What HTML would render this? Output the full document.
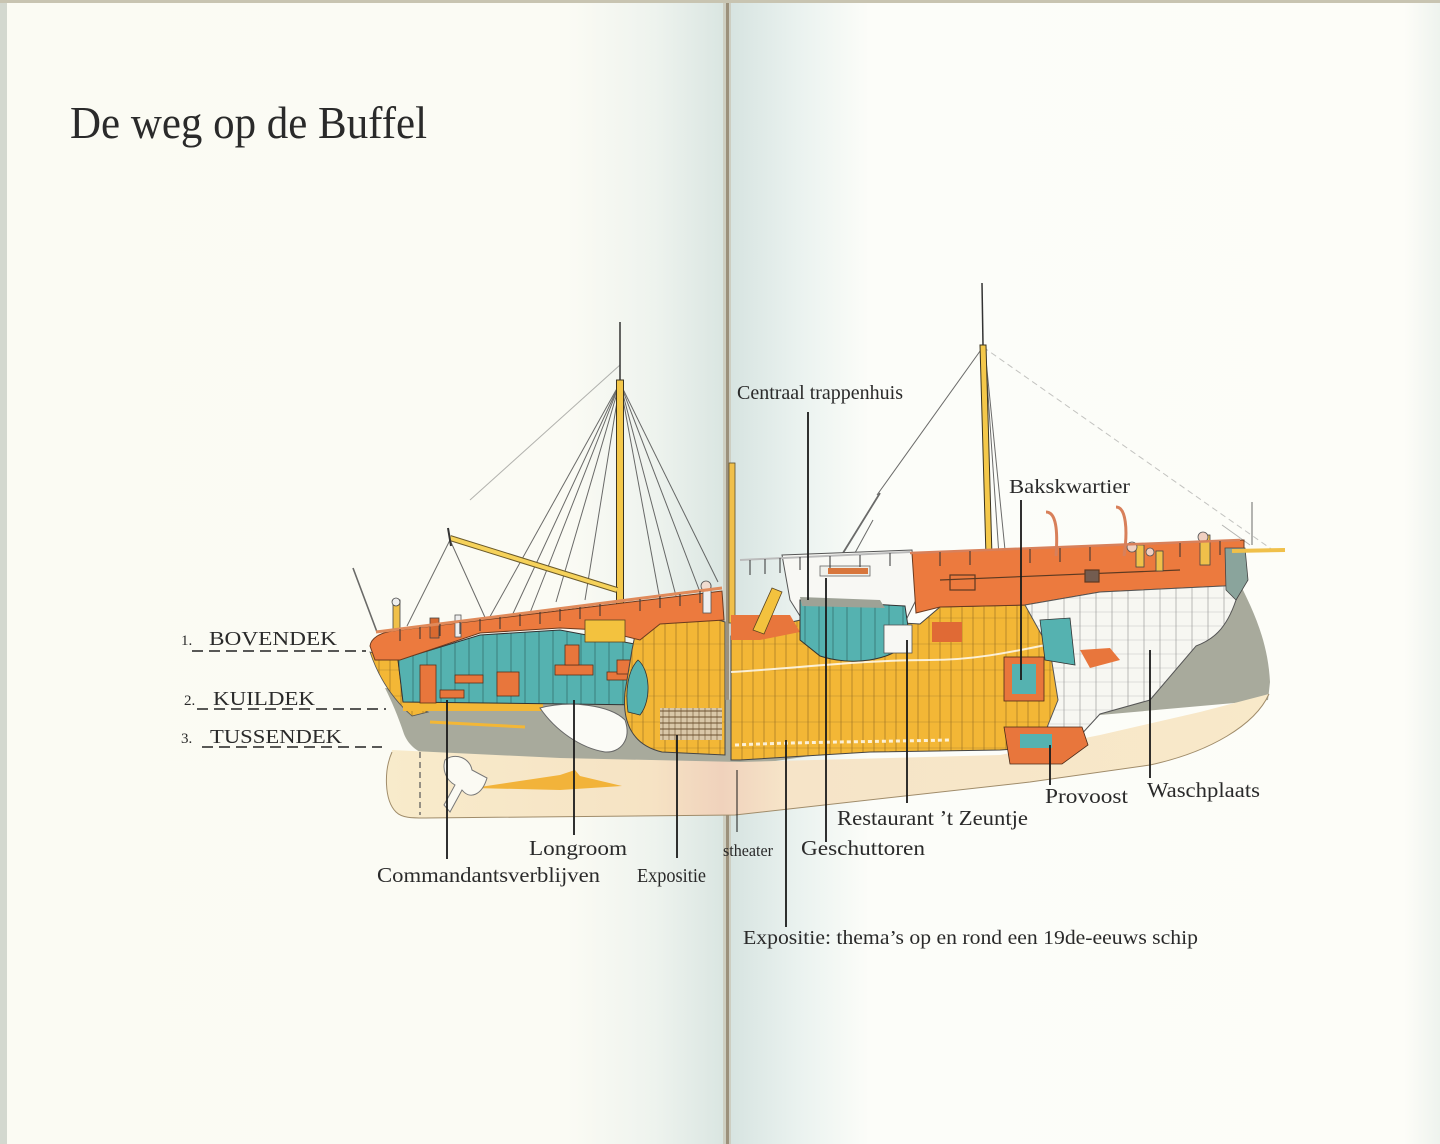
<!DOCTYPE html>
<html><head><meta charset="utf-8"><style>
html,body{margin:0;padding:0;background:#fbfbf4;}
svg{display:block;}
text{font-family:"Liberation Serif",serif;fill:#2a2a2a;}
</style></head><body>
<svg width="1440" height="1144" viewBox="0 0 1440 1144" xmlns="http://www.w3.org/2000/svg">
<defs>
<linearGradient id="gl" x1="0" x2="1" y1="0" y2="0">
<stop offset="0" stop-color="#fbfbf3"/><stop offset="0.78" stop-color="#fbfbf4"/><stop offset="0.9" stop-color="#eef3ee"/><stop offset="1" stop-color="#d9e5e1"/></linearGradient>
<linearGradient id="gr" x1="0" x2="1" y1="0" y2="0">
<stop offset="0" stop-color="#d6e3e0"/><stop offset="0.1" stop-color="#eaf2ef"/><stop offset="0.2" stop-color="#fcfdf9"/><stop offset="0.95" stop-color="#fdfdf8"/><stop offset="1" stop-color="#eef3ee"/></linearGradient>
<linearGradient id="gc" x1="0" x2="1" y1="0" y2="0">
<stop offset="0" stop-color="#f8ebcb"/><stop offset="0.3" stop-color="#f6e3c4"/><stop offset="0.38" stop-color="#f0d2bc"/><stop offset="0.45" stop-color="#f6e4c8"/><stop offset="1" stop-color="#f8e9c9"/></linearGradient>
<pattern id="py" width="11" height="26" patternUnits="userSpaceOnUse">
<rect width="11" height="26" fill="#f3b736"/><line x1="5" y1="0" x2="5" y2="26" stroke="#8a6420" stroke-width="1" opacity="0.55"/><line x1="0" y1="20" x2="11" y2="20" stroke="#8a6420" stroke-width="0.8" opacity="0.35"/></pattern>
<pattern id="pt" width="14" height="20" patternUnits="userSpaceOnUse">
<rect width="14" height="20" fill="#55b2b0"/><line x1="7" y1="0" x2="7" y2="20" stroke="#1f4a4a" stroke-width="1" opacity="0.5"/></pattern>
<pattern id="pw" width="16" height="14" patternUnits="userSpaceOnUse">
<rect width="16" height="14" fill="#f7f7f2"/><line x1="8" y1="0" x2="8" y2="14" stroke="#777" stroke-width="0.8" opacity="0.6"/><line x1="0" y1="10" x2="16" y2="10" stroke="#888" stroke-width="0.6" opacity="0.4"/></pattern>
<pattern id="ph" width="6" height="6" patternUnits="userSpaceOnUse">
<rect width="6" height="6" fill="#d9c7a8"/><line x1="0" y1="3" x2="6" y2="3" stroke="#6b5030" stroke-width="1"/><line x1="3" y1="0" x2="3" y2="6" stroke="#6b5030" stroke-width="0.6"/></pattern>
</defs>

<!-- pages -->
<rect x="0" y="0" width="727" height="1144" fill="url(#gl)"/>
<rect x="727" y="0" width="713" height="1144" fill="url(#gr)"/>
<rect x="723" y="0" width="8" height="1144" fill="#c7c0ad" opacity="0.6"/>
<rect x="726" y="0" width="3" height="1144" fill="#9c917c"/>
<rect x="0" y="0" width="7" height="1144" fill="#d3d8cf"/>
<rect x="0" y="0" width="1440" height="3" fill="#c8c4b1"/>

<!-- title -->
<text x="70" y="138" font-size="46" textLength="357" lengthAdjust="spacingAndGlyphs" fill="#3a3a3a">De weg op de Buffel</text>

<!-- rigging -->
<g stroke="#3a3a3a" stroke-width="1" fill="none" opacity="0.75">
<line x1="620" y1="383" x2="487" y2="622"/>
<line x1="620" y1="383" x2="510" y2="620"/>
<line x1="620" y1="383" x2="528" y2="618"/>
<line x1="620" y1="383" x2="556" y2="602"/>
<line x1="620" y1="383" x2="585" y2="600"/>
<line x1="620" y1="383" x2="660" y2="600"/>
<line x1="620" y1="383" x2="676" y2="596"/>
<line x1="620" y1="383" x2="700" y2="592"/>
<line x1="620" y1="383" x2="718" y2="582"/>
<line x1="620" y1="365" x2="470" y2="500" opacity="0.5"/>
<line x1="450" y1="540" x2="407" y2="626"/>
<line x1="450" y1="540" x2="488" y2="624"/>
<line x1="353" y1="568" x2="377" y2="632" stroke-width="1.6"/>
<line x1="983" y1="347" x2="877" y2="495"/>
<line x1="983" y1="347" x2="1277" y2="553" opacity="0.4" stroke-dasharray="6 4"/>
<line x1="985" y1="350" x2="1010" y2="600"/>
<line x1="985" y1="350" x2="1002" y2="600"/>
<line x1="880" y1="493" x2="835" y2="566" stroke-width="1.8"/>
<line x1="873" y1="520" x2="850" y2="562"/>
<line x1="1252" y1="502" x2="1252" y2="545"/>
<line x1="1222" y1="525" x2="1250" y2="545" opacity="0.5"/>
</g>

<!-- masts -->
<line x1="620" y1="322" x2="620" y2="385" stroke="#333" stroke-width="1.5"/>
<rect x="616.5" y="380" width="7" height="252" fill="#f4c84a" stroke="#3a3320" stroke-width="1"/>
<line x1="982" y1="283" x2="983" y2="345" stroke="#333" stroke-width="1.5"/>
<path d="M980,345 L986,345 L993,592 L987,592 Z" fill="#f4c84a" stroke="#3a3320" stroke-width="1"/>
<rect x="729" y="463" width="6" height="160" fill="#f0c04a" stroke="#5a4c2a" stroke-width="0.8"/>
<!-- boom -->
<line x1="450" y1="538" x2="617" y2="590" stroke="#6b5a2a" stroke-width="6"/>
<line x1="450" y1="538" x2="617" y2="590" stroke="#f6d25a" stroke-width="4"/>
<line x1="448" y1="528" x2="451" y2="546" stroke="#333" stroke-width="2"/>

<!-- grey hull band -->
<path d="M385,688 L725,700 L1000,680 L1238,580 C1252,608 1268,640 1270,682 L1268,700 L1100,715 L740,766 L430,756 C416,752 408,744 404,734 C398,716 392,702 385,688 Z" fill="#a8aa9c"/>
<!-- cream lower hull -->
<path d="M392,752 C384,770 384,800 396,812 C402,818 412,818 425,818 L735,815 L1030,782 L1150,765 C1210,752 1255,725 1269,694 L1200,712 L1100,735 L1000,755 L740,762 L560,758 L392,750 Z" fill="url(#gc)"/>
<path d="M392,752 C384,770 384,800 396,812 C402,818 412,818 425,818 L735,815 L1030,782 L1150,765 C1210,752 1255,725 1269,694" fill="none" stroke="#a08c6a" stroke-width="1"/>
<!-- rudder shapes -->
<path d="M473,788 L560,775 L575,770 L580,776 L622,786 L560,790 Z" fill="#f2b33a"/>
<path d="M445,760 C455,752 470,758 472,770 L487,778 C482,795 470,800 462,790 L450,812 L444,805 L455,785 C446,780 442,770 445,760 Z" fill="#fbfaf3" stroke="#777" stroke-width="1"/>
<line x1="420" y1="752" x2="420" y2="815" stroke="#555" stroke-width="1.2" stroke-dasharray="6 4"/>

<!-- stern yellow -->
<path d="M370,652 L398,660 L403,702 L428,712 L412,716 C396,702 380,682 370,652 Z" fill="url(#py)" stroke="#555" stroke-width="0.8"/>
<rect x="403" y="700" width="140" height="11" fill="#f3b736"/>
<line x1="430" y1="722" x2="525" y2="727" stroke="#f3b736" stroke-width="3"/>
<!-- teal stern interior -->
<path d="M398,660 L480,635 L560,630 L640,645 L646,705 L403,702 Z" fill="url(#pt)" stroke="#333" stroke-width="1"/>
<g fill="#e8763c" stroke="#5a3018" stroke-width="0.8">
<rect x="420" y="665" width="16" height="38"/>
<rect x="440" y="690" width="24" height="8"/>
<rect x="455" y="675" width="28" height="8"/>
<rect x="497" y="672" width="22" height="24"/>
<rect x="555" y="665" width="38" height="10"/>
<rect x="607" y="672" width="28" height="8"/>
<rect x="565" y="645" width="14" height="20"/>
<rect x="617" y="660" width="14" height="14"/>
</g>
<!-- white teardrop -->
<path d="M540,708 C570,700 610,705 625,720 C632,740 620,753 605,752 C580,748 555,730 540,708 Z" fill="#fbfbf6" stroke="#666" stroke-width="1"/>
<!-- yellow left-center section -->
<path d="M637,625 L700,614 L725,622 L725,755 L662,752 C632,745 622,722 625,692 L632,650 Z" fill="url(#py)" stroke="#444" stroke-width="1"/>
<path d="M638,660 C650,670 652,700 640,715 L628,712 C625,690 628,670 638,660 Z" fill="#55b2b0" stroke="#333" stroke-width="0.8"/>
<rect x="660" y="708" width="62" height="32" fill="url(#ph)"/>
<!-- orange stern deck -->
<path d="M370,646 C371,638 380,633 392,631 L722,591 L724,620 L660,624 L640,640 L600,630 L560,628 L480,633 L400,660 L375,660 Z" fill="#ec7a3e" stroke="#6b3a1f" stroke-width="1"/>
<rect x="585" y="620" width="40" height="22" fill="#f3c23e" stroke="#5a4420" stroke-width="0.8"/>
<rect x="393" y="600" width="7" height="30" fill="#f0c04a" stroke="#444" stroke-width="0.8"/>
<circle cx="396" cy="602" r="4" fill="#eee" stroke="#444" stroke-width="0.8"/>
<rect x="430" y="618" width="9" height="20" fill="#d86a30" stroke="#444" stroke-width="0.8"/>
<rect x="455" y="615" width="6" height="22" fill="#eee" stroke="#555" stroke-width="0.8"/>
<rect x="703" y="585" width="8" height="28" fill="#eee" stroke="#555" stroke-width="0.8"/>
<circle cx="706" cy="586" r="5" fill="#f0dcd0" stroke="#555" stroke-width="0.8"/>
<!-- rail left -->
<path d="M376,632 L722,588" stroke="#e08a5a" stroke-width="3" fill="none"/>
<g stroke="#333" stroke-width="1">
<line x1="400" y1="629" x2="400" y2="641"/><line x1="420" y1="627" x2="420" y2="639"/><line x1="440" y1="624" x2="440" y2="636"/><line x1="460" y1="622" x2="460" y2="634"/><line x1="480" y1="619" x2="480" y2="631"/><line x1="500" y1="617" x2="500" y2="629"/><line x1="520" y1="614" x2="520" y2="626"/><line x1="540" y1="612" x2="540" y2="624"/><line x1="560" y1="609" x2="560" y2="621"/><line x1="580" y1="607" x2="580" y2="619"/><line x1="600" y1="604" x2="600" y2="616"/><line x1="640" y1="599" x2="640" y2="611"/><line x1="660" y1="596" x2="660" y2="608"/><line x1="680" y1="594" x2="680" y2="606"/><line x1="700" y1="591" x2="700" y2="603"/>
</g>

<!-- middle yellow body -->
<path d="M731,636 L760,630 C790,622 800,620 810,618 L920,624 L940,607 L1025,605 L1060,640 L1082,700 L1072,745 L1000,750 L870,752 L740,760 L731,760 Z" fill="url(#py)" stroke="#444" stroke-width="1"/>
<path d="M731,672 C800,668 860,660 930,660 C980,660 1020,650 1070,640" stroke="#fff" stroke-width="2" fill="none" opacity="0.8"/>
<path d="M735,745 C800,742 860,742 950,740" stroke="#fff" stroke-width="3" fill="none" stroke-dasharray="4 3" opacity="0.8"/>
<!-- ladder / orange near gutter -->
<path d="M731,615 L790,615 L800,632 L760,640 L731,640 Z" fill="#e8763c"/>
<path d="M753,630 L772,588 L782,592 L764,634 Z" fill="#f3c23e" stroke="#5a4420" stroke-width="0.8"/>
<!-- white deckhouse -->
<path d="M782,555 L912,550 L916,600 L906,620 L860,618 L800,616 L790,600 Z" fill="#f8f8f4" stroke="#555" stroke-width="1"/>
<rect x="820" y="566" width="50" height="10" fill="#f0f0ea" stroke="#666" stroke-width="0.8"/>
<rect x="828" y="568" width="40" height="6" fill="#d8763c"/>
<!-- teal geschuttoren -->
<path d="M800,600 L905,606 L910,640 C892,662 850,666 820,656 L800,640 Z" fill="url(#pt)" stroke="#333" stroke-width="1"/>
<path d="M800,597 L880,600 L885,608 L802,606 Z" fill="#9ea296"/>
<rect x="884" y="625" width="28" height="28" fill="#f8f8f4" stroke="#555" stroke-width="0.8"/>
<rect x="932" y="622" width="30" height="20" fill="#e06a35"/>
<!-- orange right deck -->
<path d="M912,553 L1244,540 L1244,585 L1100,592 L1025,605 L940,607 L916,613 Z" fill="#ec7a3e" stroke="#6b3a1f" stroke-width="1"/>
<g stroke="#3a2a1a" stroke-width="1.2" fill="none" opacity="0.8">
<path d="M940,580 L1180,570"/><rect x="1085" y="570" width="14" height="12" fill="#555"/><rect x="950" y="575" width="25" height="15"/>
</g>
<!-- white bow interior -->
<path d="M1025,605 L1100,592 L1244,585 L1236,600 C1226,630 1212,640 1196,646 L1150,700 L1100,714 L1056,762 L1040,745 L1058,700 L1050,650 Z" fill="url(#pw)" stroke="#555" stroke-width="1"/>
<path d="M1040,620 L1070,618 L1075,665 L1045,660 Z" fill="#55b2b0" stroke="#333" stroke-width="0.8"/>
<!-- orange boxes -->
<rect x="1004" y="657" width="40" height="44" fill="#e8763c" stroke="#4a2a18" stroke-width="0.8"/>
<rect x="1012" y="664" width="24" height="30" fill="#55b2b0"/>
<path d="M1004,727 L1082,727 L1088,745 L1062,764 L1010,764 Z" fill="#e8763c" stroke="#4a2a18" stroke-width="0.8"/>
<rect x="1020" y="734" width="32" height="14" fill="#55b2b0"/>
<path d="M1080,650 L1110,648 L1120,660 L1090,668 Z" fill="#e8763c"/>
<!-- bow -->
<path d="M1225,548 L1245,548 L1248,580 L1236,600 L1226,590 Z" fill="#8aa49c" stroke="#444" stroke-width="0.8"/>
<line x1="1232" y1="551" x2="1285" y2="550" stroke="#f0c04a" stroke-width="4"/>
<rect x="1200" y="535" width="10" height="30" fill="#f0c04a" stroke="#444" stroke-width="0.8"/>
<circle cx="1203" cy="537" r="5" fill="#f0cfc0" stroke="#555" stroke-width="0.8"/>
<rect x="1136" y="545" width="8" height="22" fill="#f0c04a" stroke="#444" stroke-width="0.8"/>
<circle cx="1132" cy="547" r="5" fill="#f0cfc0" stroke="#555" stroke-width="0.8"/>
<rect x="1156" y="551" width="7" height="20" fill="#f0c04a" stroke="#444" stroke-width="0.8"/>
<circle cx="1150" cy="552" r="4" fill="#f0cfc0" stroke="#555" stroke-width="0.8"/>
<!-- davits -->
<path d="M1046,512 C1056,512 1058,530 1056,556" stroke="#d8805a" stroke-width="3" fill="none"/>
<path d="M1116,507 C1126,507 1128,530 1124,556" stroke="#d8805a" stroke-width="3" fill="none"/>
<!-- rail right -->
<path d="M740,560 L910,552" stroke="#bbb" stroke-width="2" fill="none"/>
<path d="M910,553 L1240,540" stroke="#d8805a" stroke-width="2.5" fill="none"/>
<g stroke="#333" stroke-width="1">
<line x1="750" y1="560" x2="750" y2="575"/><line x1="765" y1="559" x2="765" y2="574"/><line x1="780" y1="558" x2="780" y2="573"/><line x1="800" y1="557" x2="800" y2="570"/><line x1="830" y1="556" x2="830" y2="568"/><line x1="860" y1="555" x2="860" y2="567"/><line x1="890" y1="553" x2="890" y2="566"/>
<line x1="940" y1="552" x2="940" y2="566"/><line x1="970" y1="551" x2="970" y2="565"/><line x1="1030" y1="549" x2="1030" y2="563"/><line x1="1060" y1="548" x2="1060" y2="562"/><line x1="1090" y1="547" x2="1090" y2="561"/><line x1="1180" y1="543" x2="1180" y2="557"/><line x1="1220" y1="541" x2="1220" y2="555"/>
</g>

<!-- deck level dashed lines -->
<g stroke="#222" stroke-width="1.6" stroke-dasharray="11 6" fill="none">
<line x1="192" y1="651" x2="366" y2="651"/>
<line x1="197" y1="709" x2="386" y2="709"/>
<line x1="202" y1="747" x2="382" y2="747"/>
</g>
<text x="181" y="645" font-size="15">1.</text>
<text x="209" y="645" font-size="20" textLength="128" lengthAdjust="spacingAndGlyphs">BOVENDEK</text>
<text x="184" y="705" font-size="15">2.</text>
<text x="213" y="705" font-size="20" textLength="102" lengthAdjust="spacingAndGlyphs">KUILDEK</text>
<text x="181" y="743" font-size="15">3.</text>
<text x="210" y="743" font-size="20" textLength="132" lengthAdjust="spacingAndGlyphs">TUSSENDEK</text>

<!-- leader lines -->
<g stroke="#1a1a1a" stroke-width="1.8">
<line x1="447" y1="700" x2="447" y2="859"/>
<line x1="574" y1="700" x2="574" y2="835"/>
<line x1="677" y1="735" x2="677" y2="858"/>
<line x1="786" y1="740" x2="786" y2="927"/>
<line x1="826" y1="578" x2="826" y2="842"/>
<line x1="808" y1="412" x2="808" y2="600"/>
<line x1="907" y1="640" x2="907" y2="803"/>
<line x1="1050" y1="745" x2="1050" y2="785"/>
<line x1="1150" y1="650" x2="1150" y2="778"/>
<line x1="1021" y1="500" x2="1021" y2="680"/>
</g>
<line x1="737" y1="770" x2="737" y2="832" stroke="#1a1a1a" stroke-width="1"/>

<!-- labels -->
<text x="737" y="399" font-size="20" textLength="166" lengthAdjust="spacingAndGlyphs">Centraal trappenhuis</text>
<text x="1009" y="493" font-size="20" textLength="121" lengthAdjust="spacingAndGlyphs">Bakskwartier</text>
<text x="529" y="855" font-size="21" textLength="98" lengthAdjust="spacingAndGlyphs">Longroom</text>
<text x="377" y="882" font-size="21" textLength="223" lengthAdjust="spacingAndGlyphs">Commandantsverblijven</text>
<text x="637" y="882" font-size="20" textLength="69" lengthAdjust="spacingAndGlyphs">Expositie</text>
<text x="723" y="856" font-size="17" textLength="50" lengthAdjust="spacingAndGlyphs">stheater</text>
<text x="801" y="855" font-size="21" textLength="124" lengthAdjust="spacingAndGlyphs">Geschuttoren</text>
<text x="837" y="825" font-size="21" textLength="191" lengthAdjust="spacingAndGlyphs">Restaurant ’t Zeuntje</text>
<text x="1045" y="803" font-size="21" textLength="83" lengthAdjust="spacingAndGlyphs">Provoost</text>
<text x="1147" y="797" font-size="21" textLength="113" lengthAdjust="spacingAndGlyphs">Waschplaats</text>
<text x="743" y="944" font-size="20" textLength="455" lengthAdjust="spacingAndGlyphs">Expositie: thema’s op en rond een 19de-eeuws  schip</text>
</svg>
</body></html>
